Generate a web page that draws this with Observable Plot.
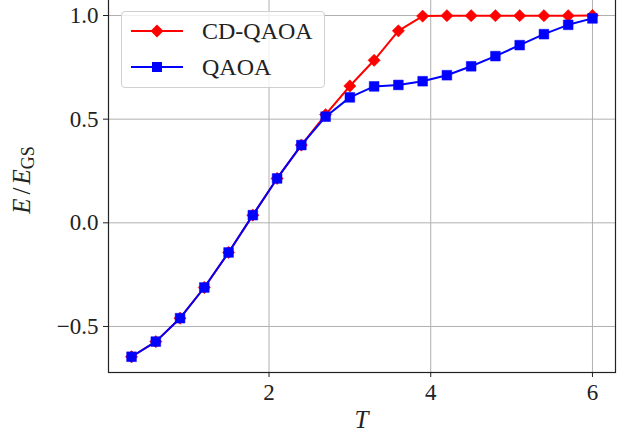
<!DOCTYPE html>
<html>
<head>
<meta charset="utf-8">
<script src="https://cdn.jsdelivr.net/npm/d3@7"></script>
<script src="https://cdn.jsdelivr.net/npm/@observablehq/plot@0.6"></script>
<style>
  body { margin: 0; background: white; }
  #wrap { position: relative; width: 633px; height: 436px; overflow: hidden; }
  #wrap text { font-family: "Liberation Serif", "DejaVu Serif", serif; }
  #legend { position: absolute; left: 121px; top: 11px; width: 204px; height: 77px;
    border: 1px solid #d0d0d0; border-radius: 4px; background: rgba(255,255,255,0.8);
    box-sizing: border-box; }
</style>
</head>
<body>
<div id="wrap"></div>
<script>
const T = [0.3, 0.6, 0.9, 1.2, 1.5, 1.8, 2.1, 2.4, 2.7, 3.0, 3.3, 3.6, 3.9, 4.2, 4.5, 4.8, 5.1, 5.4, 5.7, 6.0];
const cdqaoa = [-0.646, -0.573, -0.460, -0.312, -0.143, 0.037, 0.214, 0.375, 0.522, 0.660, 0.784, 0.926, 0.997, 0.999, 0.999, 0.999, 0.999, 0.999, 0.999, 1.0];
const qaoa = [-0.646, -0.573, -0.460, -0.312, -0.143, 0.037, 0.214, 0.375, 0.512, 0.605, 0.658, 0.665, 0.683, 0.712, 0.755, 0.804, 0.857, 0.910, 0.955, 0.986];
const xTicks = [2, 4, 6];
const yTicks = [-0.5, 0.0, 0.5, 1.0];
const seriesNames = ["CD-QAOA", "QAOA"];
const seriesColors = ["#ff0000", "#0000ff"];

const cdData = T.map((t, i) => ({T: t, E: cdqaoa[i]}));
const qData = T.map((t, i) => ({T: t, E: qaoa[i]}));

const diamond = {
  draw(ctx, size) {
    const a = Math.sqrt(size / 2);
    ctx.moveTo(0, -a); ctx.lineTo(a, 0); ctx.lineTo(0, a); ctx.lineTo(-a, 0); ctx.closePath();
  }
};

const font = '"Liberation Serif", "DejaVu Serif", serif';

const plot = Plot.plot({
  width: 633,
  height: 436,
  marginLeft: 108,
  marginRight: 18,
  marginTop: -2,
  marginBottom: 64,
  style: {fontFamily: font, fontSize: "23px", background: "white"},
  x: {domain: [0.015, 6.285], label: null},
  y: {domain: [-0.722, 1.082], label: null},
  marks: [
    Plot.gridX(xTicks, {stroke: "#b0b0b0", strokeOpacity: 1, strokeWidth: 1}),
    Plot.gridY(yTicks, {stroke: "#b0b0b0", strokeOpacity: 1, strokeWidth: 1}),
    Plot.line(cdData, {x: "T", y: "E", stroke: seriesColors[0], strokeWidth: 2}),
    Plot.dot(cdData, {x: "T", y: "E", symbol: diamond, r: 4.9, fill: seriesColors[0], stroke: seriesColors[0], strokeWidth: 0.5}),
    Plot.line(qData, {x: "T", y: "E", stroke: seriesColors[1], strokeWidth: 2}),
    Plot.dot(qData, {x: "T", y: "E", symbol: "square", r: 5.5, fill: seriesColors[1], stroke: seriesColors[1], strokeWidth: 0.5}),
    Plot.frame({stroke: "#222", strokeWidth: 1.2}),
    Plot.axisX(xTicks, {tickSize: 5, tickPadding: 6, fontSize: 23, label: null, stroke: "#222", fill: "#222"}),
    Plot.axisY(yTicks, {tickSize: 5, tickPadding: 5, fontSize: 23, label: null, tickFormat: d3.format(".1f"), stroke: "#222", fill: "#222"})
  ]
});

const wrap = document.getElementById("wrap");
wrap.appendChild(plot);

const svg = d3.select(plot);
// y-axis label
const yl = svg.append("text")
  .attr("transform", "translate(30,180) rotate(-90)")
  .attr("text-anchor", "middle")
  .attr("font-size", 25)
  .attr("fill", "#222");
yl.append("tspan").attr("font-style", "italic").text("E");
yl.append("tspan").attr("dx", 4).text("/");
yl.append("tspan").attr("dx", 3).attr("font-style", "italic").text("E");
yl.append("tspan").attr("font-size", 18).attr("dy", 4).text("GS");

// x-axis label
svg.append("text")
  .attr("x", (108 + 615) / 2)
  .attr("y", 428)
  .attr("text-anchor", "middle")
  .attr("font-size", 25)
  .attr("font-style", "italic")
  .attr("fill", "#222")
  .text("T");

// legend
const legend = document.createElement("div");
legend.id = "legend";
const ns = "http://www.w3.org/2000/svg";
const ls = document.createElementNS(ns, "svg");
ls.setAttribute("width", 204);
ls.setAttribute("height", 77);
seriesNames.forEach((name, i) => {
  const cy = 19 + i * 36;
  const g = d3.select(ls).append("g");
  g.append("line").attr("x1", 9).attr("x2", 61).attr("y1", cy).attr("y2", cy)
    .attr("stroke", seriesColors[i]).attr("stroke-width", 2);
  if (i === 0) {
    g.append("path").attr("d", `M35,${cy-6.5}L41.5,${cy}L35,${cy+6.5}L28.5,${cy}Z`).attr("fill", seriesColors[i]);
  } else {
    g.append("rect").attr("x", 30).attr("y", cy - 5).attr("width", 10).attr("height", 10).attr("fill", seriesColors[i]);
  }
  g.append("text").attr("x", 80).attr("y", cy + 8)
    .attr("font-size", 24).attr("fill", "#222").text(name);
});
legend.appendChild(ls);
wrap.appendChild(legend);
</script>
</body>
</html>
